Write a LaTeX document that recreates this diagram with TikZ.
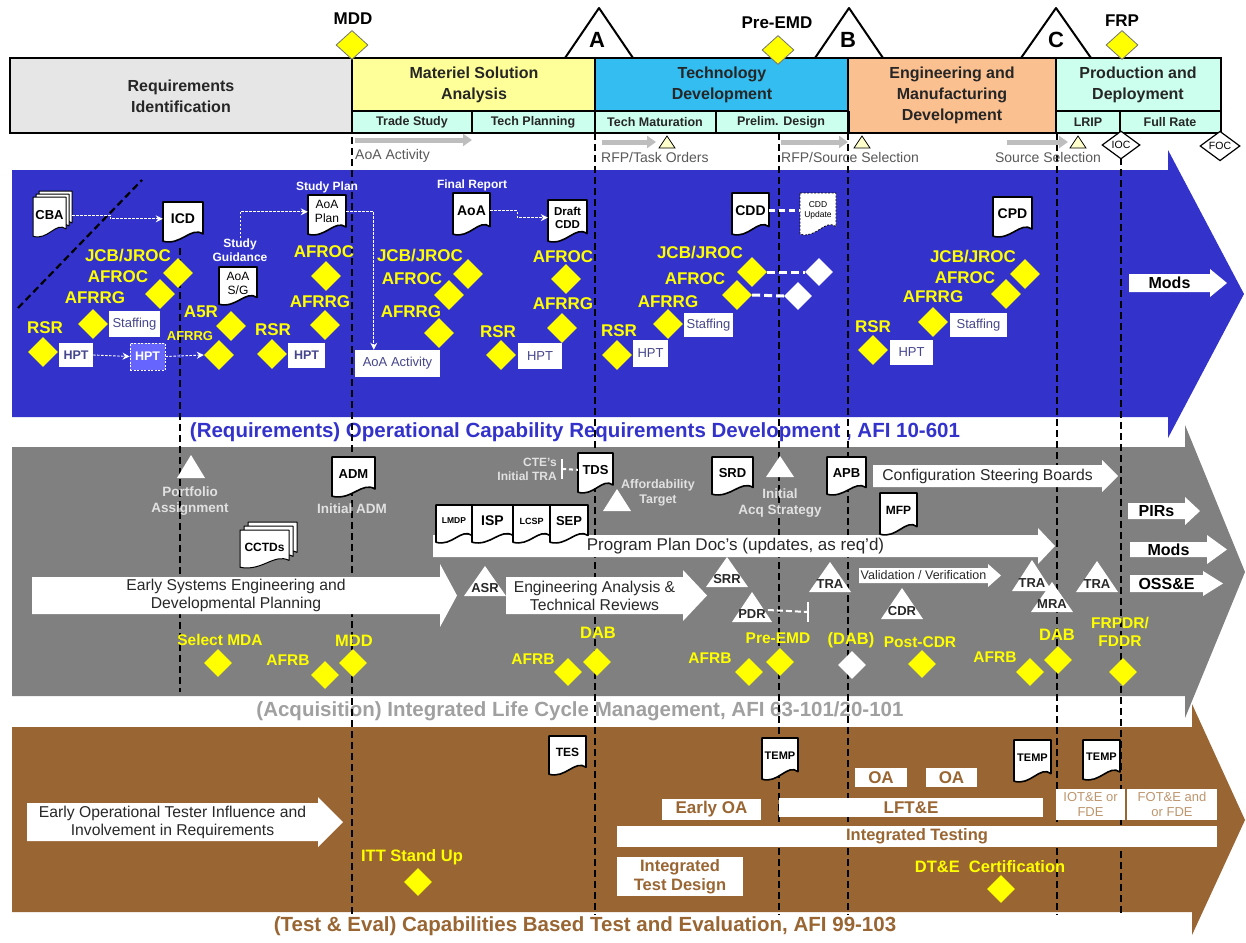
\documentclass[tikz,border=0pt]{standalone}
\usepackage{fontspec}
\setmainfont{Liberation Sans}
\usetikzlibrary{shapes.geometric,arrows.meta,calc}
\definecolor{bandblue}{RGB}{51,51,204}
\definecolor{bandgray}{RGB}{128,128,128}
\definecolor{bandbrown}{RGB}{153,102,51}
\definecolor{hdrgray}{RGB}{230,230,230}
\definecolor{msayel}{RGB}{255,255,153}
\definecolor{tdblue}{RGB}{51,189,240}
\definecolor{emdor}{RGB}{250,192,144}
\definecolor{pdcyan}{RGB}{204,255,238}
\definecolor{subcyan}{RGB}{204,255,238}
\definecolor{ylw}{RGB}{255,255,0}
\definecolor{boxtxt}{RGB}{70,70,140}
\definecolor{ltgraytxt}{RGB}{225,225,225}
\definecolor{titlegray}{RGB}{160,160,160}
\definecolor{arrowgray}{RGB}{190,190,190}
\definecolor{ltyel}{RGB}{255,255,204}
\definecolor{hptblue}{RGB}{102,102,255}
\definecolor{ltbrown}{RGB}{190,150,110}
\definecolor{darktxt}{RGB}{40,40,40}
\newcommand{\fs}[2]{\fontsize{#1}{#2}\selectfont}
% document shape path: style, x1,y1,x2,y2
\newcommand{\docpath}[5]{%
  \pgfmathsetmacro{\dw}{#4-#2}%
  \pgfmathsetmacro{\dh}{#5-#3}%
  \path[#1] (#2,#3) -- (#4,#3) -- (#4,#5-0.2*\dh) .. controls (#4-0.3*\dw,#5-0.4*\dh) and (#2+0.45*\dw,#5+0.1*\dh) .. (#2,#5-0.02*\dh) -- cycle;}
% document: name, extra path style, x1,y1,x2,y2, node opts, text
\newcommand{\mydoc}[8]{%
  \docpath{docstyle,#2}{#3}{#4}{#5}{#6}%
  \node[doctext,minimum width={(#5-#3)*1pt},#7] (#1) at ({(#3+#5)/2},{#4+0.42*(#6-#4)}) {#8};}
% stacked documents: name, x1,y1,x2,y2 (front), offset, node opts, text
\newcommand{\mystack}[8]{%
  \pgfmathsetmacro{\sxa}{#2+2*#6}\pgfmathsetmacro{\sya}{#3-2*#6}%
  \pgfmathsetmacro{\sxb}{#4+2*#6}\pgfmathsetmacro{\syb}{#5-2*#6}%
  \docpath{docstyle,line width=1pt}{\sxa}{\sya}{\sxb}{\syb}%
  \pgfmathsetmacro{\sxa}{#2+#6}\pgfmathsetmacro{\sya}{#3-#6}%
  \pgfmathsetmacro{\sxb}{#4+#6}\pgfmathsetmacro{\syb}{#5-#6}%
  \docpath{docstyle,line width=1pt}{\sxa}{\sya}{\sxb}{\syb}%
  \docpath{docstyle,line width=1pt}{#2}{#3}{#4}{#5}%
  \node[doctext,minimum width={(#4-#2)*1pt},#7] (#1) at ({(#2+#4)/2},{#3+0.45*(#5-#3)}) {#8};}
% block arrow: name, x1, ytop, ybot, xbase, head overhang, xtip, node opts, text
\newcommand{\barrow}[9]{%
  \fill[white] (#2,#3) -- (#5,#3) -- (#5,#3-#6) -- (#7,{(#3+#4)/2}) -- (#5,#4+#6) -- (#5,#4) -- (#2,#4) -- cycle;
  \node[#8] (#1) at ({(#2+#5)/2},{(#3+#4)/2}) {#9};}
% triangle: name, cx, yapex, ybase, half width, node opts, text
\newcommand{\tri}[7]{%
  \fill[white] (#2-#5,#4) -- (#2,#3) -- (#2+#5,#4) -- cycle;
  \node[tritext,#6] (#1) at (#2,#4-8) {#7};}
% white box: name, x1,y1,x2,y2, opts, text
\newcommand{\wbox}[7]{%
  \node[fill=white,minimum width={(#4-#2)*1pt},minimum height={(#5-#3)*1pt},#6] (#1) at ({(#2+#4)/2},{(#3+#5)/2}) {#7};}
\begin{document}
\begin{tikzpicture}[x=1pt,y=-1pt,
  every node/.style={inner sep=0pt,align=center},
  ylab/.style={text=ylw,font=\bfseries\fs{17}{19}},
  ylab2/.style={text=ylw,font=\bfseries\fs{15.5}{18.5}},
  ydia/.style={diamond,fill=ylw,minimum width=30pt,minimum height=30pt},
  ydia2/.style={diamond,fill=ylw,minimum width=28pt,minimum height=28pt},
  wdia/.style={diamond,fill=white,minimum width=28pt,minimum height=28pt},
  docstyle/.style={fill=white,draw=black,line width=1.6pt,line join=round},
  doctext/.style={text=black,font=\bfseries\fs{13}{14}},
  vdash/.style={draw=black,line width=1.8pt,dash pattern=on 7pt off 4pt},
  wdarrow/.style={draw=white,line width=0.9pt,dash pattern=on 2.5pt off 1.5pt,-{Stealth[length=7pt,width=7pt]}},
  wthick/.style={draw=white,line width=3pt,dash pattern=on 8pt off 4pt},
  hdr/.style={draw=black,line width=1.5pt},
  hdrtext/.style={font=\bfseries\fs{16}{21},text=black!85},
  subtext/.style={font=\bfseries\fs{12.5}{14},text=black!85},
  bluebox/.style={text=boxtxt,font=\fs{13}{15}},
  bluebold/.style={text=boxtxt,font=\bfseries\fs{12.5}{14}},
  wlab/.style={text=white,font=\bfseries\fs{12}{14}},
  ltlab/.style={text=ltgraytxt,font=\bfseries\fs{13.5}{16.5}},
  tritext/.style={text=darktxt,font=\bfseries\fs{13}{14}},
  arrtext/.style={text=darktxt,font=\fs{15.7}{18}},
  arrbold/.style={text=black,font=\bfseries\fs{16}{17}},
  brlab/.style={text=bandbrown,font=\bfseries\fs{17}{20}},
  brsmall/.style={text=ltbrown,font=\fs{13}{14.5}},
  toptext/.style={text=black!65,font=\fs{14}{16},anchor=west},
  garrow/.style={draw=arrowgray,line width=5pt,-{Triangle[length=9pt,width=12pt]}},
  smalltri/.style={fill=ltyel,draw=black,line width=0.8pt},
  mstri/.style={fill=white,draw=black,line width=2pt,line join=round},
  bandtitle/.style={font=\bfseries\fs{20.5}{22}},
  mslab/.style={font=\bfseries\fs{17}{19},text=black}]
\fill[white] (0,0) rectangle (1246,942);
\useasboundingbox (0,0) rectangle (1246,942);

% ---------------- header ----------------
\draw[mstri] (565,58) -- (599,8) -- (633,58);
\node[font=\bfseries\fs{22}{24}] (msA) at (597,40) {A};
\draw[mstri] (815,58) -- (849,8) -- (883,58);
\node[font=\bfseries\fs{22}{24}] (msB) at (848,40) {B};
\draw[mstri] (1021,58) -- (1056,8) -- (1091,58);
\node[font=\bfseries\fs{22}{24}] (msC) at (1056,40) {C};

\draw[hdr,fill=hdrgray] (10,58) rectangle (352,133);
\node[hdrtext] (reqid) at (181,96) {Requirements\\Identification};
\draw[hdr,fill=msayel] (352,58) rectangle (595,111);
\node[hdrtext] (msa) at (474,85) {Materiel Solution\\Analysis};
\draw[hdr,fill=subcyan] (352,111) rectangle (472,133);
\node[subtext] (ts) at (412,122) {Trade Study};
\draw[hdr,fill=subcyan] (472,111) rectangle (595,133);
\node[subtext] (tp) at (533,122) {Tech Planning};
\draw[hdr,fill=tdblue] (595,58) rectangle (848,111);
\node[hdrtext] (td) at (722,85) {Technology\\Development};
\draw[hdr,fill=subcyan] (595,111) rectangle (716,133);
\node[subtext] (tm) at (655,122) {Tech Maturation};
\draw[hdr,fill=subcyan] (716,111) rectangle (848,133);
\node[subtext] (pdes) at (781,122) {Prelim. Design};
\draw[hdr,fill=emdor] (848,58) rectangle (1056,133);
\node[hdrtext] (emd) at (952,95) {Engineering and\\Manufacturing\\Development};
\draw[hdr,fill=pdcyan] (1056,58) rectangle (1221,111);
\node[hdrtext] (pdn) at (1138,85) {Production and\\Deployment};
\draw[hdr,fill=subcyan] (1056,111) rectangle (1120,133);
\node[subtext] (lrip) at (1088,122) {LRIP};
\draw[hdr,fill=subcyan] (1120,111) rectangle (1221,133);
\node[subtext] (frate) at (1170,122) {Full Rate};
\draw[black,line width=3pt] (848,111) -- (848,133);

\node[ydia,draw=black!55,line width=0.8pt,minimum width=32pt,minimum height=29pt] (dmdd) at (352,45) {};
\node[mslab] (lmdd) at (353,19) {MDD};
\node[ydia,draw=black!55,line width=0.8pt,minimum width=32pt,minimum height=29pt] (dpre) at (778,50) {};
\node[mslab] (lpre) at (777,23) {Pre-EMD};
\node[ydia,draw=black!55,line width=0.8pt,minimum width=32pt,minimum height=29pt] (dfrp) at (1122,45) {};
\node[mslab] (lfrp) at (1122,21) {FRP};

% ---------------- bands ----------------
\fill[bandblue] (12,170) -- (1168,170) -- (1168,150) -- (1244,294) -- (1168,438) -- (1168,417) -- (12,417) -- cycle;
\fill[bandgray] (12,447) -- (1185,447) -- (1185,425) -- (1245,572) -- (1185,718) -- (1185,696) -- (12,696) -- cycle;
\fill[bandbrown] (12,727) -- (1192,727) -- (1192,704) -- (1245,820) -- (1192,935) -- (1192,912) -- (12,912) -- cycle;

\node[bandtitle,text=bandblue] (btitle) at (575,432) {(Requirements) Operational Capability Requirements Development , AFI 10-601};
\node[bandtitle,text=titlegray] (gtitle) at (580,711) {(Acquisition) Integrated Life Cycle Management, AFI 63-101/20-101};
\node[bandtitle,text=bandbrown] (brtitle) at (585,926) {(Test \& Eval) Capabilities Based Test and Evaluation, AFI 99-103};

% ---------------- phase lines ----------------
\draw[vdash] (180,248) -- (180,692);
\draw[vdash] (352,60) -- (352,915);
\draw[vdash] (595,133) -- (595,915);
\draw[vdash] (779,133) -- (779,915);
\draw[vdash] (848,133) -- (848,915);
\draw[vdash] (1057,133) -- (1057,915);
\draw[vdash] (1121,158) -- (1121,915);

% ---------------- top activity row ----------------
\coordinate (g1s) at (355,140); \coordinate (g1e) at (472,140);
\draw[garrow] (g1s) -- (g1e);
\node[toptext] (aoatop) at (355,156) {AoA Activity};
\coordinate (g2s) at (602,142); \coordinate (g2e) at (656,142);
\draw[garrow] (g2s) -- (g2e);
\draw[smalltri] (659,148) -- (667,136) -- (675,148) -- cycle;
\node[toptext] (rfpto) at (601,157) {RFP/Task Orders};
\coordinate (g3s) at (781,142); \coordinate (g3e) at (848,142);
\draw[garrow] (g3s) -- (g3e);
\draw[smalltri] (854,148) -- (862,136) -- (870,148) -- cycle;
\node[toptext] (rfpss) at (781,157) {RFP/Source Selection};
\coordinate (g4s) at (1007,142); \coordinate (g4e) at (1068,142);
\draw[garrow] (g4s) -- (g4e);
\draw[smalltri] (1070,148) -- (1078,136) -- (1086,148) -- cycle;
\node[toptext,anchor=center] (srcsel) at (1048,157) {Source Selection};
\node[diamond,fill=white,draw=black,line width=1.2pt,minimum width=38pt,minimum height=28pt,font=\fs{10.5}{11}] (ioc) at (1121,145) {IOC};
\node[diamond,fill=white,draw=black,line width=1.2pt,minimum width=40pt,minimum height=28pt,font=\fs{10.5}{11}] (foc) at (1220,146) {FOC};

% ---------------- blue band: requirements ----------------
\draw[black,line width=2.2pt,dash pattern=on 7pt off 4pt] (18,308) -- (142,180);
\mystack{cba}{33}{197}{66}{237}{3}{}{CBA}
\mydoc{icd}{}{163}{202}{203}{242}{font=\bfseries\fs{14}{15}}{ICD}
\draw[wdarrow] ([xshift=6pt]cba.east) -- ++(38,0) |- (icd.west);

\node[ylab] (jcb1) at (128,256) {JCB/JROC};
\node[ydia] (dj1) at (178,273) {};
\node[ylab] (afroc1) at (118,277) {AFROC};
\node[ydia] (da1) at (160,294) {};
\node[ylab] (afrrg1) at (95,298) {AFRRG};
\node[ydia] (dg1) at (93,324) {};
\wbox{staff1}{109}{311}{160}{337}{bluebox}{Staffing}
\node[ylab] (rsr1) at (45,328) {RSR};
\node[ydia] (dr1) at (43,352) {};
\wbox{hpt1}{59}{343}{93}{367}{bluebold}{HPT}
\node[fill=hptblue,draw=white,line width=0.8pt,dash pattern=on 2pt off 1.5pt,minimum width=35pt,minimum height=27pt,text=white,font=\bfseries\fs{12.5}{14}] (hpt2) at (147.5,356.5) {HPT};
\node[ylab] (a5r) at (201,312) {A5R};
\node[ydia] (da5r) at (231,326) {};
\node[text=ylw,font=\bfseries\fs{13}{15}] (afrrg2) at (190,336) {AFRRG};
\node[ydia] (dg2) at (219,355) {};
\draw[wdarrow] (hpt1.east) -- (hpt2.west);
\draw[wdarrow] (hpt2.east) -- (dg2.west);

\node[wlab] (sguid) at (240,250) {Study\\Guidance};
\mydoc{aoasg}{}{219}{267}{257}{305}{font=\fs{12}{14}}{AoA\\S/G}
\node[wlab] (splan) at (327,187) {Study Plan};
\mydoc{aoaplan}{}{308}{195}{346}{235}{font=\fs{12}{14}}{AoA\\Plan}
\draw[wdarrow] (sguid.north) |- (aoaplan.west);
\node[ylab] (afroc2) at (324,252) {AFROC};
\node[ydia] (da2) at (326,276) {};
\node[ylab] (afrrg3) at (320,302) {AFRRG};
\node[ydia] (dg3) at (325,325) {};
\node[ylab] (rsr2) at (273,330) {RSR};
\node[ydia] (dr2) at (272,354) {};
\wbox{hpt3}{288}{343}{325}{368}{bluebold}{HPT}
\wbox{aoaact}{355}{350}{440}{377}{bluebox}{AoA Activity}
\draw[wdarrow] (aoaplan.east) -| ($(aoaact.north west)+(19,0)$);

\node[wlab] (frep) at (472,185) {Final Report};
\mydoc{aoa}{}{453}{193}{490}{235}{font=\bfseries\fs{14}{15}}{AoA}
\mydoc{draftcdd}{}{548}{200}{587}{242}{font=\bfseries\fs{11.5}{13}}{Draft\\CDD}
\draw[wdarrow] (aoa.east) -- ++(27,0) |- (draftcdd.west);
\node[ylab] (jcb2) at (420,256) {JCB/JROC};
\node[ydia] (dj2) at (468,274) {};
\node[ylab] (afroc3) at (412,279) {AFROC};
\node[ydia] (da3) at (449,295) {};
\node[ylab] (afrrg4) at (411,312) {AFRRG};
\node[ydia] (dg4) at (439,333) {};
\node[ylab] (rsr3) at (498,332) {RSR};
\node[ydia] (dr3) at (501,355) {};
\wbox{hpt4}{518}{343}{562}{369}{bluebox}{HPT}
\node[ylab] (afroc4) at (563,257) {AFROC};
\node[ydia] (da4) at (566,279) {};
\node[ylab] (afrrg5) at (563,304) {AFRRG};
\node[ydia] (dg5) at (562,328) {};

\node[ylab] (rsr4) at (619,331) {RSR};
\node[ydia] (dr4) at (617,355) {};
\wbox{hpt5}{633}{340}{668}{367}{bluebox}{HPT}
\node[ylab] (afrrg6) at (668,302) {AFRRG};
\node[ydia] (dg6) at (668,324) {};
\wbox{staff2}{684}{313}{733}{337}{bluebox}{Staffing}
\node[ylab] (afroc5) at (695,279) {AFROC};
\node[ydia] (da5) at (737,295) {};
\node[ylab] (jcb3) at (700,253) {JCB/JROC};
\node[ydia] (dj3) at (752,272) {};
\node[wdia] (wd1) at (819,272) {};
\node[wdia] (wd2) at (798,296) {};
\draw[wthick] (dj3.east) -- (wd1.west);
\draw[wthick] (da5.east) -- (wd2.west);
\mydoc{cdd}{}{732}{193}{769}{235}{font=\bfseries\fs{14}{15}}{CDD}
\mydoc{cddup}{line width=0.8pt,dash pattern=on 2pt off 1.5pt}{800}{193}{836}{235}{font=\fs{8.5}{10}}{CDD\\Update}
\draw[wthick,dash pattern=on 6pt off 4pt] (cdd.east) -- (cddup.west);

\mydoc{cpd}{}{993}{197}{1032}{237}{font=\bfseries\fs{14}{15}}{CPD}
\node[ylab] (jcb4) at (973,257) {JCB/JROC};
\node[ydia] (dj4) at (1025,274) {};
\node[ylab] (afroc6) at (965,278) {AFROC};
\node[ydia] (da6) at (1006,294) {};
\node[ylab] (afrrg7) at (933,297) {AFRRG};
\node[ydia] (dg7) at (933,322) {};
\wbox{staff3}{950}{313}{1007}{337}{bluebox}{Staffing}
\node[ylab] (rsr5) at (873,327) {RSR};
\node[ydia] (dr5) at (873,350) {};
\wbox{hpt6}{890}{340}{933}{365}{bluebox}{HPT}
\barrow{mods1}{1129}{274}{292}{1210}{5}{1227}{arrbold}{Mods}

% ---------------- gray band: acquisition ----------------
\tri{portf}{191}{455}{478}{14}{}{}
\node[ltlab] (portlab) at (190,501) {Portfolio\\Assignment};
\mydoc{adm}{}{332}{457}{375}{497}{}{ADM}
\node[ltlab] (iadm) at (352,509) {Initial ADM};
\mystack{cctds}{240}{530}{289}{568}{4}{font=\bfseries\fs{12}{13}}{CCTDs}
\barrow{esys}{32}{577}{614}{440}{13}{457}{arrtext}{Early Systems Engineering and\\Developmental Planning}
\node[ylab2] (selmda) at (220,640) {Select MDA};
\node[ydia2] (dsel) at (218,663) {};
\node[ylab2] (afrb1) at (288,660) {AFRB};
\node[ydia2] (dafrb1) at (325,675) {};
\node[ylab2,font=\bfseries\fs{16.5}{19}] (mdd2) at (354,641) {MDD};
\node[ydia2] (dmdd2) at (353,663) {};

\barrow{ppd}{433}{535}{557}{1038}{7}{1055}{arrtext,font=\fs{17}{19}}{Program Plan Doc’s (updates, as req’d)}
\mydoc{lmdp}{}{436}{505}{472}{543}{font=\bfseries\fs{8.5}{10}}{LMDP}
\mydoc{isp}{}{472}{505}{513}{543}{font=\bfseries\fs{14}{15}}{ISP}
\mydoc{lcsp}{}{513}{505}{550}{543}{font=\bfseries\fs{9}{10}}{LCSP}
\mydoc{sep}{}{550}{505}{588}{543}{}{SEP}
\mydoc{tds}{}{578}{453}{613}{493}{}{TDS}
\node[ltlab,font=\bfseries\fs{12}{14},anchor=east,align=right] (ctetra) at (557,469) {CTE’s\\Initial TRA};
\draw[white,line width=2pt] ([xshift=5pt,yshift=-10pt]ctetra.east) -- ([xshift=5pt,yshift=10pt]ctetra.east);
\draw[white,line width=2pt,dash pattern=on 4pt off 3pt] ([xshift=5pt]ctetra.east) -- (tds.west);
\tri{afford}{617}{489}{511}{14}{}{}
\node[ltlab,font=\bfseries\fs{12.5}{15}] (afflab) at (658,493) {Affordability\\Target};
\tri{asr}{485}{566}{596}{21}{}{ASR}
\barrow{enga}{506}{577}{614}{683}{7}{707}{arrtext}{Engineering Analysis \&\\Technical Reviews}
\tri{srr}{727}{557}{587}{21}{}{SRR}
\tri{pdr}{752}{592}{622}{20}{}{PDR}
\coordinate (pdrend) at (808,612);
\draw[white,line width=2pt,dash pattern=on 6pt off 3pt] ([xshift=2pt,yshift=4pt]pdr.east) -- (pdrend);
\draw[white,line width=2pt] ([yshift=-10pt]pdrend) -- ([yshift=10pt]pdrend);
\tri{iacq}{780}{456}{477}{14}{}{}
\node[ltlab] (iacqlab) at (780,503) {Initial\\Acq Strategy};
\mydoc{srd}{}{712}{457}{753}{495}{}{SRD}
\mydoc{apb}{}{827}{457}{866}{495}{}{APB}
\tri{tra1}{830}{562}{592}{21}{}{TRA}
\node[ylab2,font=\bfseries\fs{16.5}{19}] (dab1) at (598,633) {DAB};
\node[ydia2] (ddab1) at (597,662) {};
\node[ylab2] (afrb2) at (533,659) {AFRB};
\node[ydia2] (dafrb2) at (568,672) {};
\node[ylab2] (pre2) at (778,638) {Pre-EMD};
\node[ydia2] (dpre2) at (780,662) {};
\node[ylab2] (afrb3) at (710,658) {AFRB};
\node[ydia2] (dafrb3) at (749,672) {};
\node[ylab2,font=\bfseries\fs{16.5}{19}] (dabp) at (851,640) {(DAB)};
\node[wdia] (wdab) at (852,665) {};

\barrow{csb}{873}{465}{487}{1102}{5}{1118}{arrtext}{Configuration Steering Boards}
\mydoc{mfp}{}{880}{493}{917}{535}{font=\bfseries\fs{12}{13}}{MFP}
\barrow{valver}{859}{568}{583}{988}{4}{1001}{arrtext,font=\fs{12.5}{13}}{Validation / Verification}
\tri{cdr}{902}{588}{619}{21}{}{CDR}
\node[ylab2] (postcdr) at (920,642) {Post-CDR};
\node[ydia2] (dpost) at (922,664) {};
\tri{tra2}{1032}{560}{591}{20}{}{TRA}
\tri{mra}{1052}{582}{612}{21}{}{MRA}
\tri{tra3}{1097}{561}{592}{21}{}{TRA}
\node[ylab2,font=\bfseries\fs{16.5}{19}] (dab2) at (1057,635) {DAB};
\node[ydia2] (ddab2) at (1058,660) {};
\node[ylab2] (afrb4) at (995,657) {AFRB};
\node[ydia2] (dafrb4) at (1030,672) {};
\node[ylab2] (frpdr) at (1120,632) {FRPDR/\\FDDR};
\node[ydia2] (dfrpdr) at (1123,672) {};
\barrow{pirs}{1128}{503}{519}{1185}{6}{1200}{arrbold}{PIRs}
\barrow{mods2}{1130}{542}{557}{1207}{7}{1227}{arrbold}{Mods}
\barrow{osse}{1130}{575}{592}{1203}{4}{1223}{arrbold}{OSS\&E}

% ---------------- brown band: test & evaluation ----------------
\barrow{eot}{27}{803}{841}{318}{6}{343}{arrtext}{Early Operational Tester Influence and\\Involvement in Requirements}
\node[ylab2,font=\bfseries\fs{16.5}{19}] (itt) at (412,857) {ITT Stand Up};
\node[ydia2] (ditt) at (418,882) {};
\mydoc{tes}{}{549}{736}{586}{775}{font=\bfseries\fs{12}{13}}{TES}
\mydoc{temp1}{}{762}{738}{798}{780}{font=\bfseries\fs{11}{12}}{TEMP}
\wbox{earlyoa}{662}{799}{761}{820}{brlab}{Early OA}
\wbox{lfte}{779}{798}{1043}{817}{brlab}{LFT\&E}
\wbox{inttest}{617}{826}{1217}{847}{brlab,font=\bfseries\fs{16.5}{19}}{Integrated Testing}
\wbox{itd}{617}{857}{743}{896}{brlab,font=\bfseries\fs{16.5}{19}}{Integrated\\Test Design}
\wbox{oa1}{855}{768}{907}{787}{brlab}{OA}
\wbox{oa2}{926}{768}{977}{787}{brlab}{OA}
\mydoc{temp2}{}{1014}{740}{1051}{782}{font=\bfseries\fs{11}{12}}{TEMP}
\mydoc{temp3}{}{1083}{740}{1120}{780}{font=\bfseries\fs{11}{12}}{TEMP}
\wbox{iote}{1056}{789}{1125}{820}{brsmall}{IOT\&E or\\FDE}
\wbox{fote}{1127}{789}{1217}{820}{brsmall}{FOT\&E and\\or FDE}
\node[ylab2,font=\bfseries\fs{16.5}{19}] (dte) at (990,867) {DT\&E\ \ Certification};
\node[ydia2] (ddte) at (1001,889) {};
\end{tikzpicture}
\end{document}
